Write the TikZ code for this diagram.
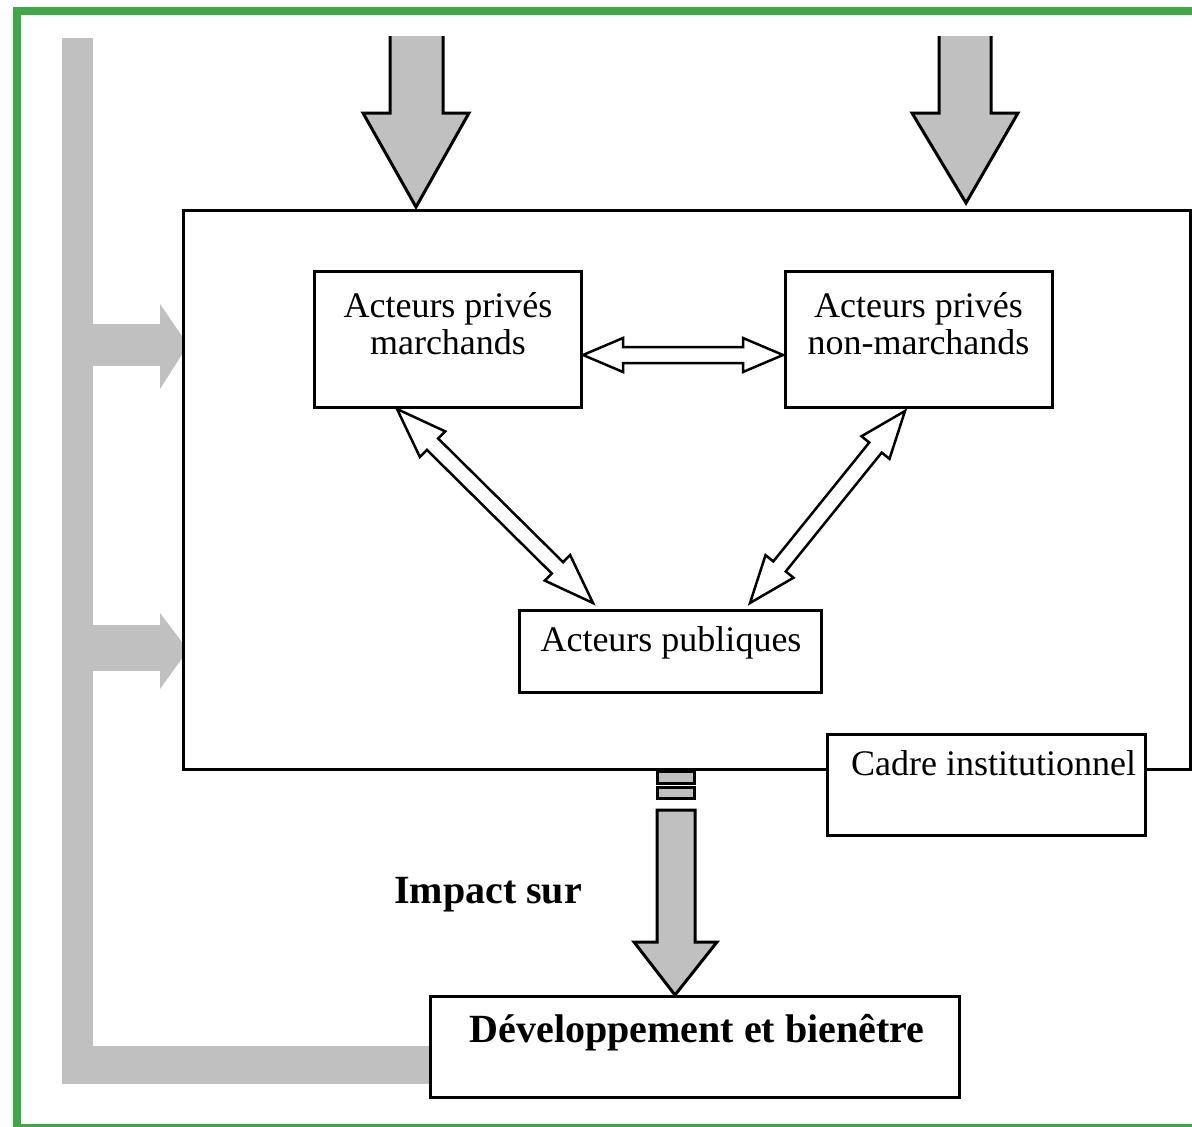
\documentclass[tikz,border=0pt]{standalone}
\usepackage{fontspec}
\setmainfont{Liberation Serif}
\usetikzlibrary{calc}
\definecolor{frameG}{HTML}{3DA845}
\definecolor{arrG}{HTML}{C0C0C0}
\tikzset{
  box/.style={draw=black, line width=3pt, fill=white, inner sep=0pt, rectangle},
  lbl/.style={inner sep=0pt, font=\fontsize{36}{37}\selectfont, align=center},
  blbl/.style={inner sep=0pt, font=\fontsize{40}{44}\selectfont\bfseries},
  grayshape/.style={fill=arrG},
  bigarrow/.style={fill=arrG, draw=black, line width=3pt, line join=miter},
  hollow/.style={draw=black, fill=white, line width=2.5pt, line join=miter},
}
% #1 start, #2 end, #3 head length, #4 head half width, #5 shaft half width
\newcommand{\hollowdbl}[5]{%
  \filldraw[hollow] (#1)
    -- ($(#1)!#3!(#2)!#4!90:(#2)$)
    -- ($(#1)!#3!(#2)!#5!90:(#2)$)
    -- ($(#2)!#3!(#1)!#5!-90:(#1)$)
    -- ($(#2)!#3!(#1)!#4!-90:(#1)$)
    -- (#2)
    -- ($(#2)!#3!(#1)!#4!90:(#1)$)
    -- ($(#2)!#3!(#1)!#5!90:(#1)$)
    -- ($(#1)!#3!(#2)!#5!-90:(#2)$)
    -- ($(#1)!#3!(#2)!#4!-90:(#2)$)
    -- cycle;}
\begin{document}
\begin{tikzpicture}[x=1pt,y=-1pt]
\clip (0,0) rectangle (1192,1127);
\fill[white] (0,0) rectangle (1192,1127);
% green frame
\draw[frameG, line width=8pt] (1260,11) -- (17,11) -- (17,1128) -- (1260,1128);
% grey feedback path
\fill[grayshape] (62,38) rectangle (93,1084);
\fill[grayshape] (62,1046) rectangle (440,1084);
\fill[grayshape] (93,324) rectangle (160,366);
\fill[grayshape] (160,304) -- (188,345) -- (160,389) -- cycle;
\fill[grayshape] (93,625) rectangle (160,671);
\fill[grayshape] (160,613) -- (188,650) -- (160,689) -- cycle;
% main frame
\node[box, minimum width=1007pt, minimum height=559pt] (inst) at (686.5,489.5) {};
% top arrows
\fill[grayshape] (390,36) -- (390,113) -- (363,113) -- (416,207) -- (469,113) -- (443,113) -- (443,36) -- cycle;
\draw[bigarrow, fill=none] (390,36) -- (390,113) -- (363,113) -- (416,207) -- (469,113) -- (443,113) -- (443,36);
\fill[grayshape] (939,36) -- (939,113) -- (912,113) -- (966,203) -- (1018,113) -- (991,113) -- (991,36) -- cycle;
\draw[bigarrow, fill=none] (939,36) -- (939,113) -- (912,113) -- (966,203) -- (1018,113) -- (991,113) -- (991,36);
% inner boxes
\node[box, minimum width=267pt, minimum height=136pt] (pm) at (447.5,339) {};
\node[lbl] (pmt) at (448,324) {Acteurs privés\\marchands};
\node[box, minimum width=267pt, minimum height=136pt] (pn) at (918.5,339) {};
\node[lbl] (pnt) at (918.5,324) {Acteurs privés\\non-marchands};
\node[box, minimum width=302pt, minimum height=82pt] (pub) at (670,651) {};
\node[lbl, anchor=base] (pubt) at (671,651) {Acteurs publiques};
\node[box, minimum width=318pt, minimum height=101pt] (cadre) at (986,784.5) {};
\node[lbl, anchor=base west] (cadret) at (851,775) {Cadre institutionnel};
% hollow double arrows
\coordinate (h1) at (583,355);
\coordinate (h2) at (783,355);
\coordinate (l1) at (397,409);
\coordinate (l2) at (593,603);
\coordinate (r1) at (905,411);
\coordinate (r2) at (750,603);
\hollowdbl{h1}{h2}{40pt}{17pt}{8pt}
\hollowdbl{l1}{l2}{50pt}{18pt}{8pt}
\hollowdbl{r1}{r2}{47pt}{18pt}{8pt}
% bottom arrow
\draw[bigarrow] (657,771) rectangle (694,783);
\draw[bigarrow] (657,787) rectangle (694,798);
\draw[bigarrow] (657,810) -- (657,942) -- (634,942) -- (675,995) -- (717,942) -- (695,942) -- (695,810) -- cycle;
\node[blbl, anchor=base west] (impact) at (394,903) {Impact sur};
% result box
\node[box, minimum width=529pt, minimum height=101pt] (dev) at (694.5,1046.5) {};
\node[blbl, anchor=base] (devt) at (697,1042) {Développement et bienêtre};
\end{tikzpicture}
\end{document}
